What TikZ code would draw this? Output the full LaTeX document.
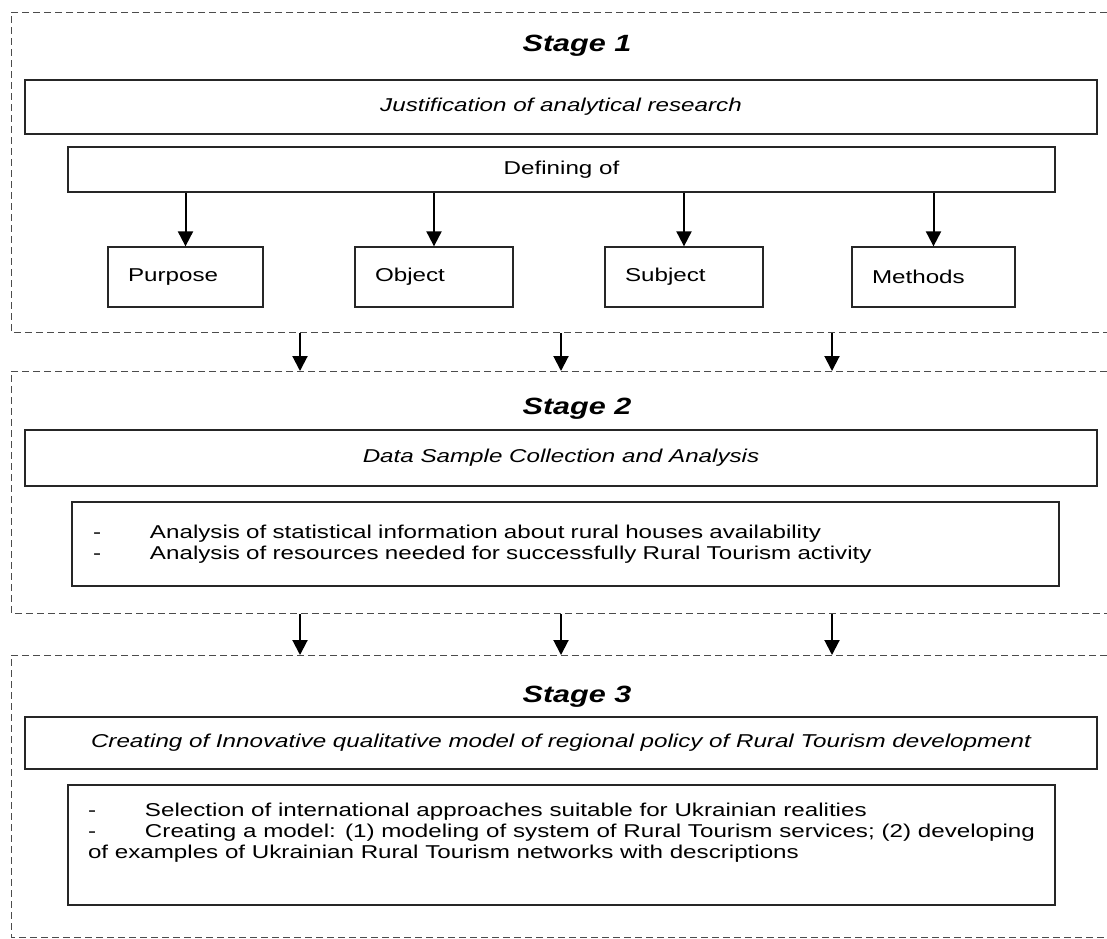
\documentclass[tikz,border=0pt]{standalone}
\usepackage{fontspec}
\setmainfont[FakeStretch=1.3]{Liberation Sans}
\usetikzlibrary{arrows.meta}
\begin{document}
\begin{tikzpicture}[x=1pt,y=-1pt,
  frame/.style={draw=black!70, line width=1pt, dash pattern=on 7pt off 4pt},
  box/.style={draw=black!85, line width=1.3pt, inner sep=0pt, font=\fontsize{18.6}{21}\selectfont},
  smallbox/.style={box, minimum height=60pt, inner xsep=20pt, align=left},
  listbox/.style={box, inner xsep=21pt},
  heading/.style={font=\fontsize{23.5}{27}\selectfont\bfseries\itshape, inner sep=0pt, anchor=base},
  arr/.style={line width=2pt, -{Triangle[width=15pt,length=15pt]}}
]
\useasboundingbox (0,0) rectangle (1107,938);
% stage frames
\draw[frame] (1107,12) -| (11,332) -- (1107,332);
\draw[frame] (1107,371) -| (11,613) -- (1107,613);
\draw[frame] (1107,655) -| (11,937) -- (1107,937);

% Stage 1
\node[heading] (h1) at (577,51) {Stage 1};
\node[box, minimum width=1072pt, minimum height=54pt] (just) at (561,107) {\itshape Justification of analytical research};
\node[box, minimum width=987pt, minimum height=45pt] (def) at (561.5,169.5) {Defining of};
\node[smallbox, text width=115pt] (pur) at (185.5,277) {Purpose};
\node[smallbox, text width=118pt] (obj) at (434,277) {Object};
\node[smallbox, text width=118pt] (sub) at (684,277) {Subject};
\node[smallbox, text width=123pt] (met) at (933.5,277) {Methods};
\foreach \n in {pur,obj,sub,met} \draw[arr] (def.south -| \n.north) -- (\n.north);

% between stage 1 and 2
\foreach \i/\x in {1/300,2/561,3/832} {
  \coordinate (a\i) at (\x,333);
  \coordinate (b\i) at (\x,371);
  \draw[arr] (a\i) -- (b\i);
}

% Stage 2
\node[heading] (h2) at (577,414) {Stage 2};
\node[box, minimum width=1072pt, minimum height=56pt] (data) at (561,458) {\itshape Data Sample Collection and Analysis};
\node[listbox, align=left, minimum width=987pt, minimum height=84pt, text width=945pt] (dlist) at (565.5,544)
 {\makebox[57pt][l]{-}Analysis of statistical information about rural houses availability\\
  \makebox[57pt][l]{-}Analysis of resources needed for successfully Rural Tourism activity};

% between stage 2 and 3
\foreach \i/\x in {1/300,2/561,3/832} {
  \coordinate (c\i) at (\x,614);
  \coordinate (d\i) at (\x,655);
  \draw[arr] (c\i) -- (d\i);
}

% Stage 3
\node[heading] (h3) at (577,702) {Stage 3};
\node[box, minimum width=1072pt, minimum height=52pt] (cre) at (561,743) {\itshape Creating of Innovative qualitative model of regional policy of Rural Tourism development};
\node[listbox, align=justify, inner xsep=20pt, minimum width=987pt, minimum height=120pt, text width=947pt] (clist) at (561.5,845)
 {\makebox[57pt][l]{-}Selection of international approaches suitable for Ukrainian realities\\
  \makebox[57pt][l]{-}Creating a model: (1) modeling of system of Rural Tourism services; (2) developing\linebreak
  of examples of Ukrainian Rural Tourism networks with descriptions\\[8pt] \mbox{}};
\end{tikzpicture}
\end{document}
